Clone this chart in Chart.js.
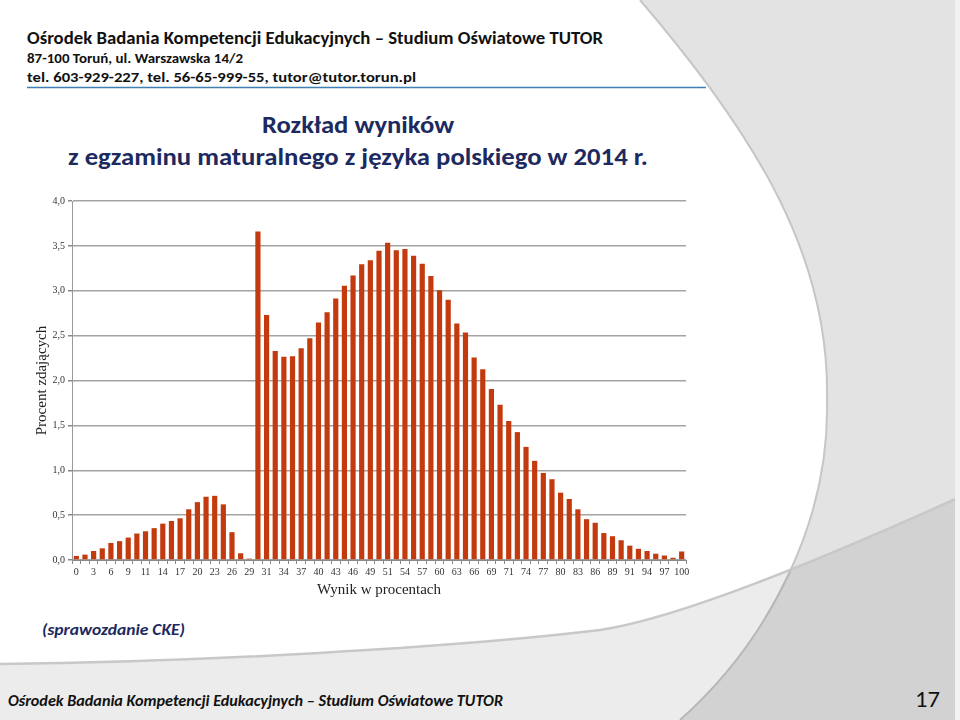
<!DOCTYPE html>
<html>
<head>
<meta charset="utf-8">
<script src="https://cdn.jsdelivr.net/npm/chart.js@4.4.1/dist/chart.umd.min.js"></script>
<style>
  html, body { margin: 0; padding: 0; background: #fff; }
  #slide { position: relative; width: 960px; height: 720px; overflow: hidden; }
  #bg { position: absolute; left: 0; top: 0; }
  #chart { position: absolute; left: 0; top: 180px; }
</style>
</head>
<body>
<div id="slide">
  <svg id="bg" width="960" height="720" xmlns="http://www.w3.org/2000/svg">
    <rect x="0" y="0" width="960" height="720" fill="#ffffff"/>
    <!-- grey area right of the big arc -->
    <path d="M640,0 C760,140 830,260 827,400 C830,520 770,640 680,720 L960,720 L960,0 Z" fill="#e3e3e3"/>
    <path d="M640,0 C760,140 830,260 827,400 C830,520 770,640 680,720" fill="none" stroke="#c6c6c6" stroke-width="2"/>
    <!-- bottom swoosh -->
    <path d="M0,664 C200,662 450,648 600,630 C680,618 820,560 960,497 L960,720 L0,720 Z" fill="#000" fill-opacity="0.075"/>
    <path d="M0,664 C200,662 450,648 600,630 C680,618 820,560 960,497" fill="none" stroke="#c8c8c8" stroke-width="2.5"/>
    <rect x="955" y="0" width="5" height="720" fill="#f2f2f2"/>

    <g font-family="Carlito, 'Open Sans', 'Noto Sans', sans-serif" fill="#111">
      <text x="27" y="44" font-size="17" font-weight="bold" textLength="576" lengthAdjust="spacingAndGlyphs">Ośrodek Badania Kompetencji Edukacyjnych – Studium Oświatowe TUTOR</text>
      <text x="27" y="63" font-size="14.5" font-weight="bold" textLength="216" lengthAdjust="spacingAndGlyphs">87-100 Toruń, ul. Warszawska 14/2</text>
      <text x="27" y="82" font-size="14.5" font-weight="bold" textLength="389" lengthAdjust="spacingAndGlyphs">tel. 603-929-227, tel. 56-65-999-55, tutor@tutor.torun.pl</text>
    </g>
    <line x1="27" y1="87.5" x2="706" y2="87.5" stroke="#3f7fb3" stroke-width="1.5"/>

    <g font-family="Carlito, 'Open Sans', 'Noto Sans', sans-serif" fill="#1c2a60">
      <text x="262" y="133" font-size="25" font-weight="600" textLength="192" lengthAdjust="spacingAndGlyphs">Rozkład wyników</text>
      <text x="68" y="165" font-size="25" font-weight="600" textLength="580" lengthAdjust="spacingAndGlyphs">z egzaminu maturalnego z języka polskiego w 2014 r.</text>
      <text x="42" y="635" font-size="15" font-weight="600" font-style="italic" textLength="143" lengthAdjust="spacingAndGlyphs">(sprawozdanie CKE)</text>
    </g>

    <g font-family="Carlito, 'Open Sans', 'Noto Sans', sans-serif" fill="#111">
      <text x="8" y="706" font-size="16.5" font-weight="bold" font-style="italic" textLength="495" lengthAdjust="spacingAndGlyphs">Ośrodek Badania Kompetencji Edukacyjnych – Studium Oświatowe TUTOR</text>
      <text x="915" y="707" font-size="23" textLength="25" lengthAdjust="spacingAndGlyphs">17</text>
    </g>
  </svg>
  <canvas id="chart" width="700" height="440"></canvas>
</div>

<script>
// wynik w procentach dla kolejnych punktów 0..70
const percentLabels = [
  0, 1, 3, 4, 6, 7, 9, 10, 11, 13, 14, 16, 17, 19, 20, 21, 23, 24, 26, 27,
  29, 30, 31, 33, 34, 36, 37, 39, 40, 41, 43, 44, 46, 47, 49, 50, 51, 53, 54, 56,
  57, 59, 60, 61, 63, 64, 66, 67, 69, 70, 71, 73, 74, 76, 77, 79, 80, 81, 83, 84,
  86, 87, 89, 90, 91, 93, 94, 96, 97, 99, 100
];

// procent zdających
const shareOfStudents = [
  0.045, 0.06, 0.10, 0.13, 0.19, 0.21, 0.25, 0.295, 0.32, 0.355,
  0.405, 0.435, 0.465, 0.565, 0.645, 0.705, 0.715, 0.62, 0.31, 0.075,
  0.015, 3.66, 2.73, 2.33, 2.265, 2.27, 2.36, 2.47, 2.645, 2.76,
  2.915, 3.055, 3.17, 3.295, 3.34, 3.445, 3.535, 3.45, 3.465, 3.39,
  3.30, 3.165, 3.005, 2.90, 2.635, 2.535, 2.255, 2.125, 1.905, 1.73,
  1.55, 1.425, 1.26, 1.105, 0.97, 0.90, 0.75, 0.68, 0.565, 0.455,
  0.415, 0.30, 0.265, 0.22, 0.16, 0.125, 0.10, 0.07, 0.05, 0.025,
  0.095
];

const yTicks = [0, 0.5, 1, 1.5, 2, 2.5, 3, 3.5, 4];

const serif = "'Liberation Serif', 'DejaVu Serif', serif";

new Chart(document.getElementById("chart"), {
  type: "bar",
  data: {
    labels: percentLabels,
    datasets: [
      {
        label: "Procent zdających",
        data: shareOfStudents,
        backgroundColor: "#c33a0e",
        borderWidth: 0,
        barPercentage: 0.6,
        categoryPercentage: 1,
      },
    ],
  },
  options: {
    responsive: false,
    animation: false,
    layout: { padding: { top: 21, right: 14, bottom: 17, left: 29 } },
    plugins: { legend: { display: false }, tooltip: { enabled: false } },
    scales: {
      x: {
        afterFit: (scale) => { scale.height = 43; },
        grid: {
          drawOnChartArea: false,
          color: "#888",
          tickLength: 4,
        },
        border: { color: "#888", width: 1 },
        ticks: {
          autoSkip: false,
          maxRotation: 0,
          padding: 2,
          color: "#333",
          font: { family: serif, size: 10 },
          callback: (value, index) => (index % 2 === 0 ? percentLabels[index] : ""),
        },
        title: {
          display: true,
          text: "Wynik w procentach",
          color: "#222",
          font: { family: serif, size: 15 },
        },
      },
      y: {
        min: 0,
        max: 4,
        afterFit: (scale) => { scale.width = 43; },
        afterBuildTicks: (scale) => { scale.ticks = yTicks.map((v) => ({ value: v })); },
        grid: {
          color: "#a3a3a3",
          lineWidth: 1.5,
          tickLength: 4,
          tickColor: "#888",
        },
        border: { color: "#999", width: 1 },
        ticks: {
          padding: 3,
          color: "#333",
          font: { family: serif, size: 10 },
          callback: (value) => value.toFixed(1).replace(".", ","),
        },
        title: {
          display: true,
          text: "Procent zdających",
          color: "#222",
          font: { family: serif, size: 15 },
        },
      },
    },
  },
});
</script>
</body>
</html>
